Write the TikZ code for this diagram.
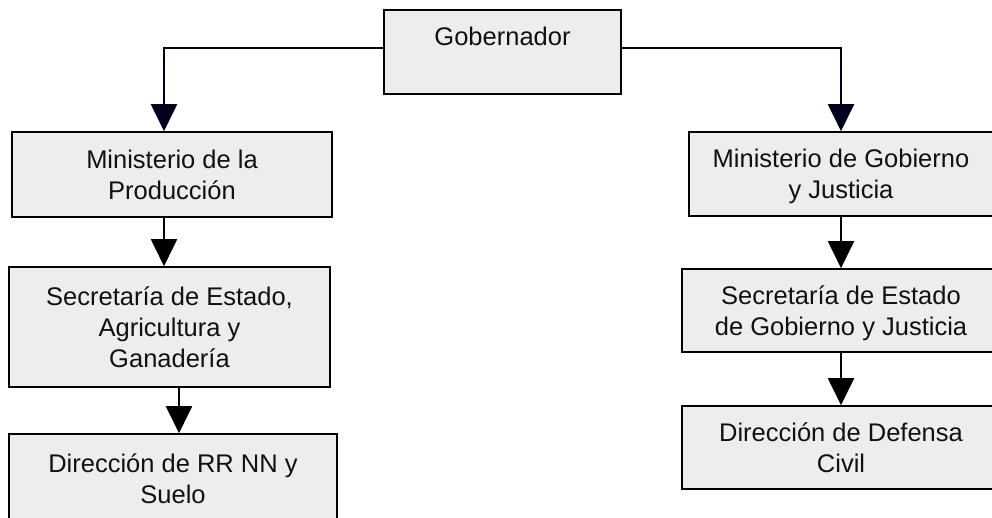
\documentclass[tikz,border=0pt]{standalone}
\usepackage{fontspec}
\setmainfont{Liberation Sans}
\usetikzlibrary{arrows.meta}
\definecolor{boxfill}{HTML}{EDEDED}
\definecolor{navyline}{RGB}{0,0,30}
\definecolor{txt}{HTML}{111111}
\begin{document}
\begin{tikzpicture}[x=1pt,y=-1pt,
  orgbox/.style={draw=black, line width=1.6pt, fill=boxfill, rectangle,
    inner sep=0pt, align=center, text=txt, text depth=0pt,
    font=\fontsize{25.5}{31}\selectfont},
  conn/.style={line width=2pt, -{Triangle[width=26pt,length=27pt]}},
  topconn/.style={conn, draw=navyline}
]
\useasboundingbox (0,0) rectangle (992,518);
\clip (0,0) rectangle (992,518);

% boxes
\node[orgbox, minimum width=237pt, minimum height=84pt] (gob) at (502.5,52) {Gobernador\\\mbox{}};
\node[orgbox, minimum width=320pt, minimum height=85pt] (m1) at (172,174.5) {Ministerio de la\\Producción};
\node[orgbox, minimum width=321pt, minimum height=120pt] (s1) at (169.5,327) {Secretaría de Estado,\\Agricultura y\\Ganadería};
\node[orgbox, minimum width=328pt, minimum height=89pt] (d1) at (173,478.5) {Dirección de RR NN y\\Suelo};

\node[orgbox, minimum width=304pt, minimum height=84pt] (m2) at (841,174) {Ministerio de Gobierno\\y Justicia};
\node[orgbox, minimum width=318pt, minimum height=83pt] (s2) at (841,310.5) {Secretaría de Estado\\de Gobierno y Justicia};
\node[orgbox, minimum width=318pt, minimum height=83pt] (d2) at (841,447.5) {Dirección de Defensa\\Civil};

% connector columns
\coordinate (colA) at (164,0);
\coordinate (colB) at (179,0);

% connectors
\draw[topconn] ([yshift=4pt]gob.west) -| (m1.north -| colA);
\draw[topconn] ([yshift=4pt]gob.east) -| (m2.north);
\draw[conn] (m1.south -| colA) -- (s1.north -| colA);
\draw[conn] (s1.south -| colB) -- (d1.north -| colB);
\draw[conn] (m2.south) -- (s2.north);
\draw[conn] (s2.south) -- (d2.north);
\end{tikzpicture}
\end{document}
